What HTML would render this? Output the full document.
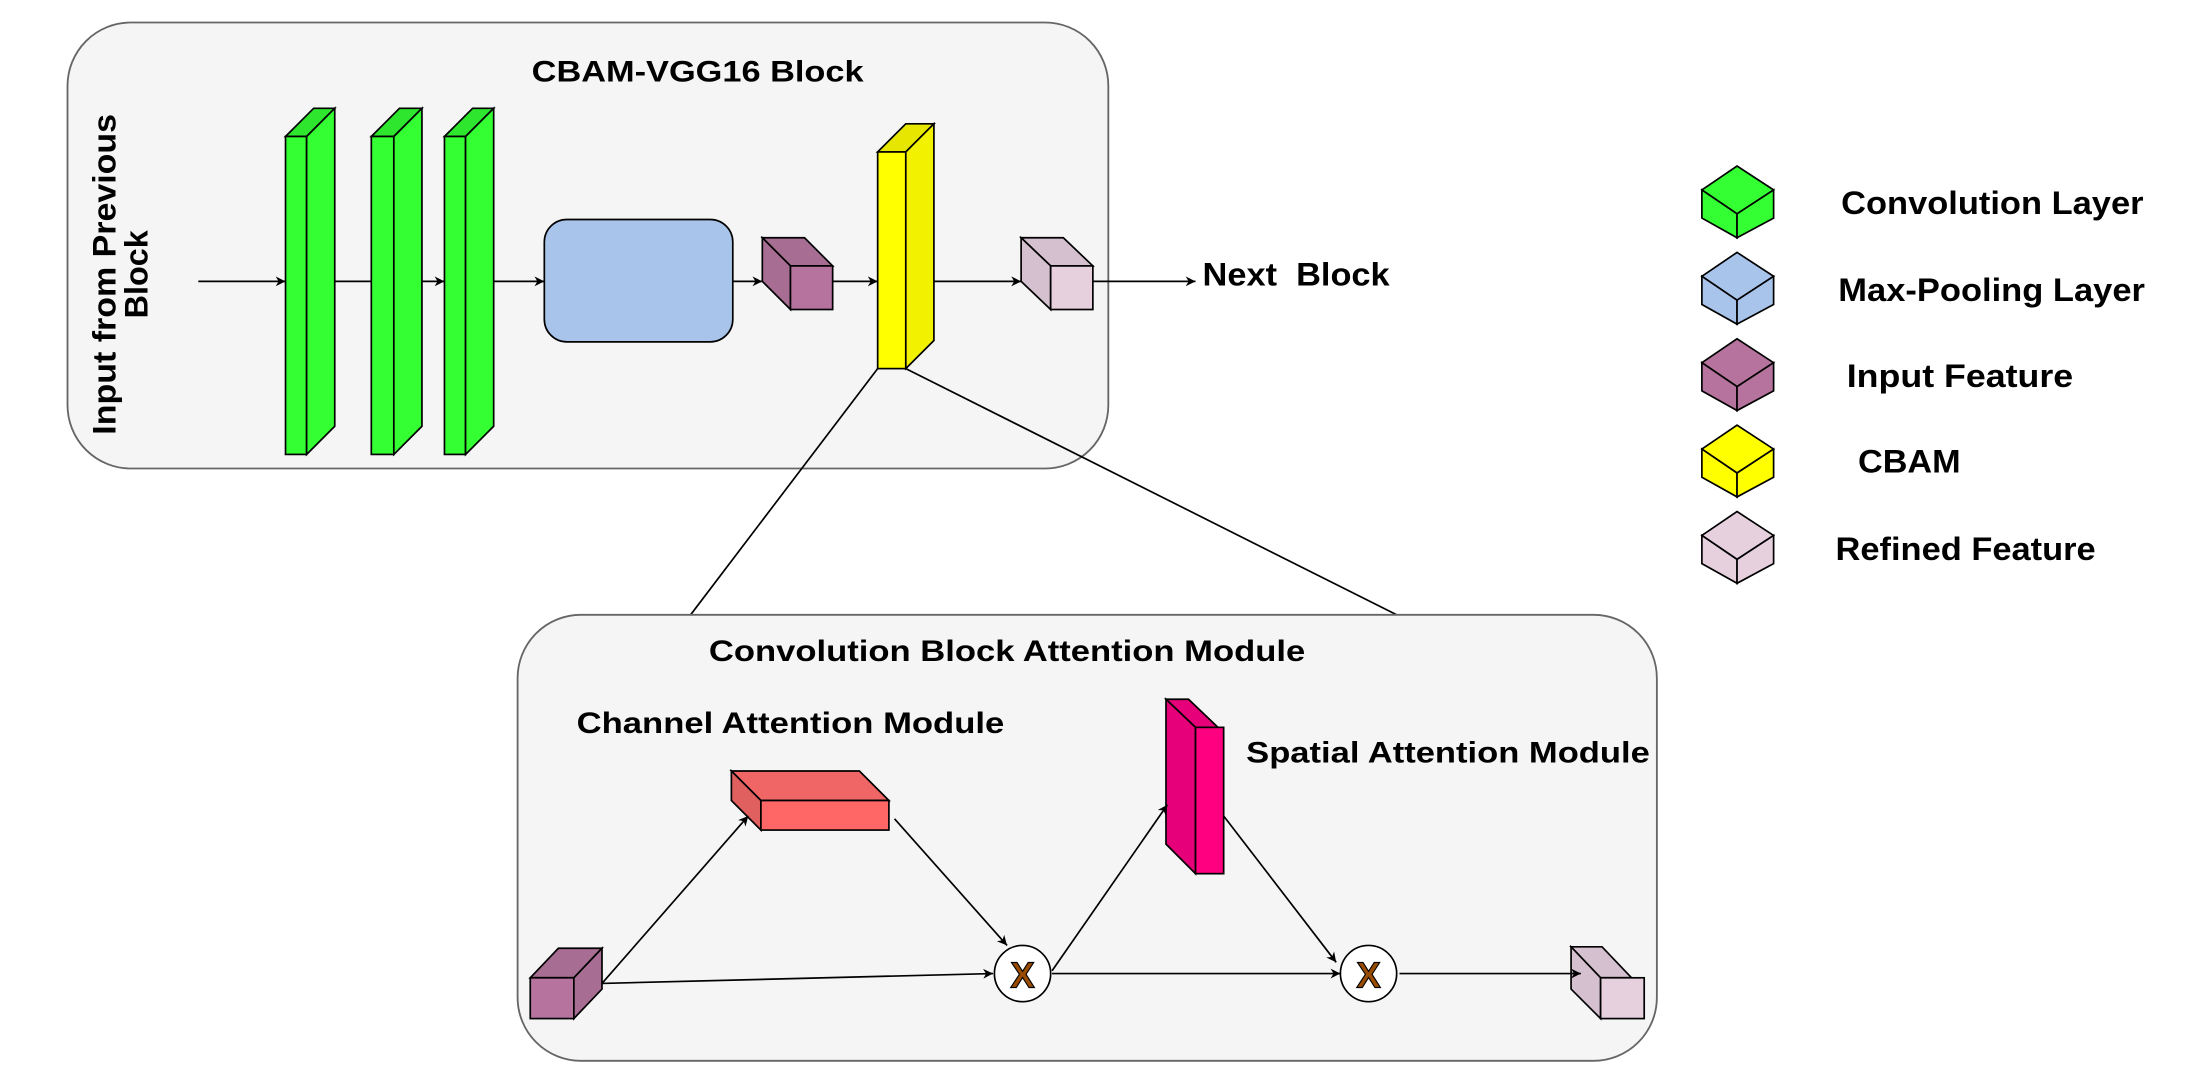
<!DOCTYPE html>
<html><head><meta charset="utf-8"><style>html,body{margin:0;padding:0;background:#fff}svg{display:block}</style></head>
<body>
<svg width="2204" height="1084" viewBox="0 0 1567 770.5" preserveAspectRatio="none" xmlns="http://www.w3.org/2000/svg" font-family="Liberation Sans, Arial, sans-serif" font-weight="bold">
<defs>
<marker id="a" viewBox="0 0 10 10" refX="10" refY="5" markerWidth="7" markerHeight="7" markerUnits="userSpaceOnUse" orient="auto"><path d="M0,0 L10,5 L0,10 L3,5 z" fill="#000"/></marker>
</defs>
<rect x="48" y="16" width="740" height="317" rx="45" fill="#f5f5f5" stroke="#666" stroke-width="1.3"/>
<text x="378" y="58" font-size="21" textLength="236" lengthAdjust="spacingAndGlyphs">CBAM-VGG16 Block</text>
<text transform="translate(82,195) rotate(-90)" text-anchor="middle" font-size="23" textLength="228" lengthAdjust="spacingAndGlyphs">Input from Previous</text>
<text transform="translate(105,195) rotate(-90)" text-anchor="middle" font-size="23">Block</text>
<g stroke="#000" stroke-width="1.2" fill="none">
<line x1="141" y1="200" x2="203" y2="200" marker-end="url(#a)"/>
<line x1="238" y1="200" x2="264" y2="200"/>
<line x1="300" y1="200" x2="316" y2="200" marker-end="url(#a)"/>
<line x1="351" y1="200" x2="387" y2="200" marker-end="url(#a)"/>
<line x1="521" y1="200" x2="542" y2="200" marker-end="url(#a)"/>
<line x1="592" y1="200" x2="624" y2="200" marker-end="url(#a)"/>
<line x1="664" y1="200" x2="726" y2="200" marker-end="url(#a)"/>
<line x1="777" y1="200" x2="850" y2="200" marker-end="url(#a)"/>
<line x1="624" y1="262" x2="491" y2="437"/>
<line x1="644" y1="262" x2="997" y2="439"/>
</g>
<text x="855" y="203" font-size="23" textLength="133" lengthAdjust="spacingAndGlyphs">Next&#160;&#160;Block</text>
<g stroke="#000" stroke-width="1.2" fill="#33ff33">
<g><path d="M203,97 L218,97 L238,77 L223,77 Z" fill="#2ee62e"/><rect x="203" y="97" width="15" height="226"/><path d="M218,97 L238,77 L238,303 L218,323 Z"/></g>
<g><path d="M264,97 L280,97 L300,77 L284,77 Z" fill="#2ee62e"/><rect x="264" y="97" width="16" height="226"/><path d="M280,97 L300,77 L300,303 L280,323 Z"/></g>
<g><path d="M316,97 L331,97 L351,77 L336,77 Z" fill="#2ee62e"/><rect x="316" y="97" width="15" height="226"/><path d="M331,97 L351,77 L351,303 L331,323 Z"/></g>
</g>
<rect x="387" y="156" width="134" height="87" rx="16" fill="#a9c4eb" stroke="#000" stroke-width="1.2"/>
<g stroke="#000" stroke-width="1.2">
<path d="M542,169 L572,169 L592,189 L562,189 Z" fill="#a76d93"/>
<path d="M542,169 L562,189 L562,220 L542,200 Z" fill="#a76d93"/>
<rect x="562" y="189" width="30" height="31" fill="#b5739d"/>
</g>
<g stroke="#000" stroke-width="1.2">
<path d="M624,108 L644,108 L664,88 L644,88 Z" fill="#e6e600"/>
<rect x="624" y="108" width="20" height="154" fill="#ffff00"/>
<path d="M644,108 L664,88 L664,242 L644,262 Z" fill="#f2f200"/>
</g>
<g stroke="#000" stroke-width="1.2">
<path d="M726,169 L756,169 L777,189 L747,189 Z" fill="#d5c0cf"/>
<path d="M726,169 L747,189 L747,220 L726,200 Z" fill="#d5c0cf"/>
<rect x="747" y="189" width="30" height="31" fill="#e6d0de"/>
</g>
<rect x="368" y="437" width="810" height="317" rx="45" fill="#f5f5f5" stroke="#666" stroke-width="1.3"/>
<text x="504" y="470" font-size="21" textLength="424" lengthAdjust="spacingAndGlyphs">Convolution Block Attention Module</text>
<text x="410" y="521" font-size="21" textLength="304" lengthAdjust="spacingAndGlyphs">Channel Attention Module</text>
<text x="886" y="542" font-size="21" textLength="287" lengthAdjust="spacingAndGlyphs">Spatial Attention Module</text>
<g stroke="#000" stroke-width="1.2">
<path d="M520,548 L611,548 L632,569 L541,569 Z" fill="#f06666"/>
<path d="M520,548 L541,569 L541,590 L520,569 Z" fill="#e06060"/>
<rect x="541" y="569" width="91" height="21" fill="#ff6666"/>
</g>
<g stroke="#000" stroke-width="1.2">
<path d="M829,497 L845,497 L866,517 L850,517 Z" fill="#e6007a"/>
<path d="M829,497 L850,517 L850,621 L829,600 Z" fill="#e6007a"/>
<rect x="850" y="517" width="20" height="104" fill="#ff0080"/>
</g>
<g stroke="#000" stroke-width="1.2">
<path d="M377,695 L397,674 L428,674 L408,695 Z" fill="#a76d93"/>
<rect x="377" y="695" width="31" height="29" fill="#b5739d"/>
<path d="M408,695 L428,674 L428,703 L408,724 Z" fill="#a76d93"/>
</g>
<g stroke="#000" stroke-width="1.2">
<path d="M1117,673 L1139,673 L1160,695 L1138,695 Z" fill="#d5c0cf"/>
<path d="M1117,673 L1138,695 L1138,724 L1117,703 Z" fill="#d5c0cf"/>
<rect x="1138" y="695" width="31" height="29" fill="#e6d0de"/>
</g>
<g stroke="#000" stroke-width="1.2" fill="none">
<line x1="428" y1="699" x2="706" y2="692" marker-end="url(#a)"/>
<line x1="428" y1="699" x2="532" y2="580" marker-end="url(#a)"/>
<line x1="636" y1="582" x2="716" y2="672" marker-end="url(#a)"/>
<line x1="748" y1="690" x2="830" y2="572" marker-end="url(#a)"/>
<line x1="870" y1="580" x2="950" y2="684" marker-end="url(#a)"/>
<line x1="748" y1="692" x2="953" y2="692" marker-end="url(#a)"/>
<line x1="995" y1="692" x2="1124" y2="692" marker-end="url(#a)"/>
</g>
<ellipse cx="727" cy="692" rx="20" ry="20" fill="#fff" stroke="#000" stroke-width="1.2"/>
<text x="727" y="702" text-anchor="middle" font-size="26" fill="#994c00" stroke="#000" stroke-width="0.8">X</text>
<ellipse cx="973" cy="692" rx="20" ry="20" fill="#fff" stroke="#000" stroke-width="1.2"/>
<text x="973" y="702" text-anchor="middle" font-size="26" fill="#994c00" stroke="#000" stroke-width="0.8">X</text>
<g stroke="#000" stroke-width="1.2" transform="translate(6,0)">
<g><path d="M1204,135 L1229,118 L1255,135 L1229,152 Z" fill="#33ff33"/><path d="M1204,135 L1229,152 L1229,169 L1204,155 Z" fill="#33ff33"/><path d="M1229,152 L1255,135 L1255,155 L1229,169 Z" fill="#33ff33"/></g>
<g transform="translate(0,61.4)"><path d="M1204,135 L1229,118 L1255,135 L1229,152 Z" fill="#a9c4eb"/><path d="M1204,135 L1229,152 L1229,169 L1204,155 Z" fill="#a9c4eb"/><path d="M1229,152 L1255,135 L1255,155 L1229,169 Z" fill="#a9c4eb"/></g>
<g transform="translate(0,122.8)"><path d="M1204,135 L1229,118 L1255,135 L1229,152 Z" fill="#b5739d"/><path d="M1204,135 L1229,152 L1229,169 L1204,155 Z" fill="#b5739d"/><path d="M1229,152 L1255,135 L1255,155 L1229,169 Z" fill="#b5739d"/></g>
<g transform="translate(0,184.2)"><path d="M1204,135 L1229,118 L1255,135 L1229,152 Z" fill="#ffff00"/><path d="M1204,135 L1229,152 L1229,169 L1204,155 Z" fill="#ffff00"/><path d="M1229,152 L1255,135 L1255,155 L1229,169 Z" fill="#ffff00"/></g>
<g transform="translate(0,245.6)"><path d="M1204,135 L1229,118 L1255,135 L1229,152 Z" fill="#e6d0de"/><path d="M1204,135 L1229,152 L1229,169 L1204,155 Z" fill="#e6d0de"/><path d="M1229,152 L1255,135 L1255,155 L1229,169 Z" fill="#e6d0de"/></g>
</g>
<g font-size="23">
<text x="1309" y="152" textLength="215" lengthAdjust="spacingAndGlyphs">Convolution Layer</text>
<text x="1307" y="214" textLength="218" lengthAdjust="spacingAndGlyphs">Max-Pooling Layer</text>
<text x="1313" y="275" textLength="161" lengthAdjust="spacingAndGlyphs">Input Feature</text>
<text x="1321" y="336" textLength="73" lengthAdjust="spacingAndGlyphs">CBAM</text>
<text x="1305" y="398" textLength="185" lengthAdjust="spacingAndGlyphs">Refined Feature</text>
</g>
</svg>
</body></html>
